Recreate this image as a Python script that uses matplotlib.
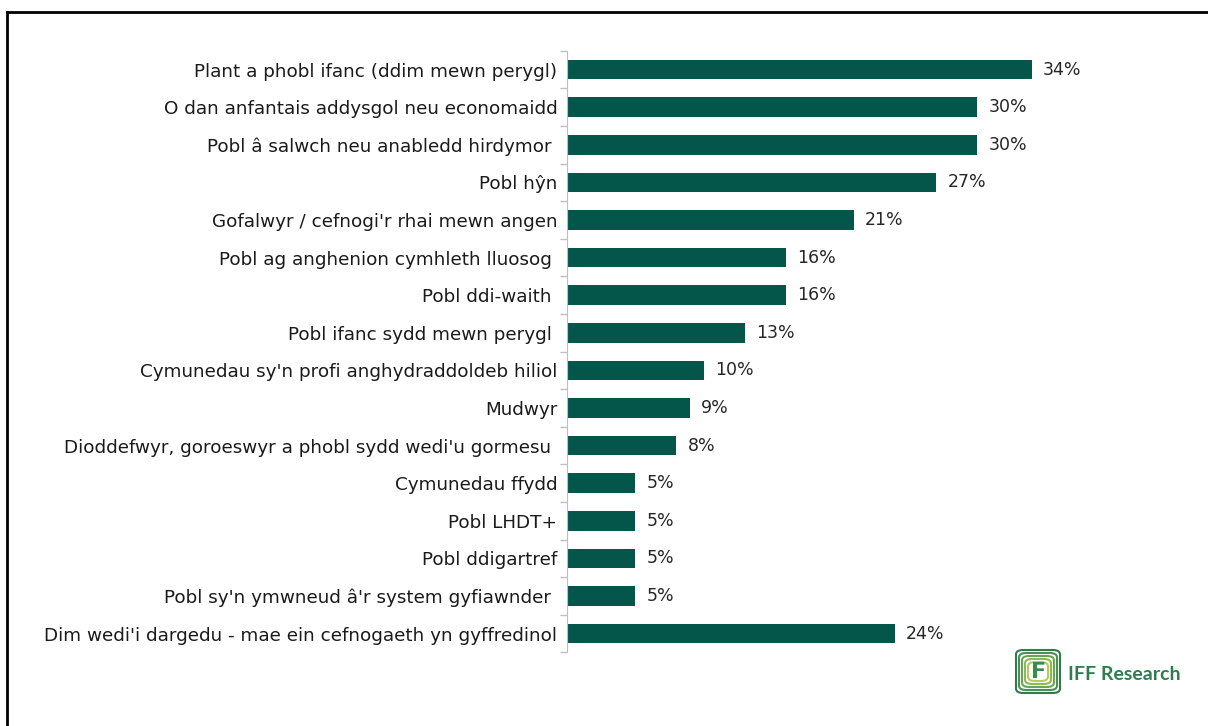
import numpy as np
import matplotlib.pyplot as plt
from matplotlib.patches import FancyBboxPatch
from matplotlib.lines import Line2D

plt.rcParams['font.family'] = ['DejaVu Sans']

# Data
categories = [
    "Plant a phobl ifanc (ddim mewn perygl)",
    "O dan anfantais addysgol neu economaidd",
    "Pobl â salwch neu anabledd hirdymor ",
    "Pobl hŷn",
    "Gofalwyr / cefnogi'r rhai mewn angen",
    "Pobl ag anghenion cymhleth lluosog ",
    "Pobl ddi-waith ",
    "Pobl ifanc sydd mewn perygl ",
    "Cymunedau sy'n profi anghydraddoldeb hiliol",
    "Mudwyr",
    "Dioddefwyr, goroeswyr a phobl sydd wedi'u gormesu ",
    "Cymunedau ffydd",
    "Pobl LHDT+",
    "Pobl ddigartref",
    "Pobl sy'n ymwneud â'r system gyfiawnder ",
    "Dim wedi'i dargedu - mae ein cefnogaeth yn gyffredinol",
]
values = [34, 30, 30, 27, 21, 16, 16, 13, 10, 9, 8, 5, 5, 5, 5, 24]

bar_color = '#04564A'

fig = plt.figure(figsize=(12.08, 7.26), dpi=100)
ax = fig.add_axes([0.4694, 0.1015, 0.4529, 0.8285])

y = np.arange(len(categories))
ax.barh(y, values, height=0.52, color=bar_color)
for yi, v in zip(y, values):
    ax.text(v + 0.8, yi, f"{v}%", va='center', ha='left', fontsize=12.5, color='#262626')

ax.set_ylim(len(categories) - 0.5, -0.5)
ax.set_xlim(0, 40)
ax.set_yticks(y)
ax.set_yticklabels(categories, fontsize=13.2, color='#1a1a1a')
ax.tick_params(axis='y', which='major', length=0, pad=7)
ax.set_yticks(np.arange(-0.5, len(categories)), minor=True)
ax.tick_params(axis='y', which='minor', length=5, color='#BFBFBF', width=1)
ax.set_xticks([])
for s in ['top', 'right', 'bottom']:
    ax.spines[s].set_visible(False)
ax.spines['left'].set_color('#BFBFBF')

# outer border
fig.add_artist(Line2D([7 / 1208, 7 / 1208], [0, 1 - 12 / 726], color='black', lw=2))
fig.add_artist(Line2D([7 / 1208, 1], [1 - 12 / 726, 1 - 12 / 726], color='black', lw=2))

# logo
shades = ['#2f7d4f', '#4a9150', '#6aa553', '#8cba57', '#b1cf5c']
for i, c in enumerate(shades):
    x0 = (1016 + i * 3) / 1208
    y0 = 1 - (693 - i * 3) / 726
    w = (44 - i * 6) / 1208
    h = (43 - i * 6) / 726
    fig.add_artist(FancyBboxPatch((x0, y0), w, h, boxstyle='round,pad=0,rounding_size=0.006',
                                  transform=fig.transFigure, fill=False, ec=c, lw=1.5))
fig.text(1031 / 1208, 1 - 672 / 726, 'F', fontsize=16, fontweight='bold', color='#3d8a50',
         ha='left', va='center')
fig.text(1068 / 1208, 1 - 674 / 726, 'IFF Research', fontsize=14, fontweight='bold',
         family='Lato', color='#2e7d4f', ha='left', va='center')

fig.savefig('out.png', dpi=100)
